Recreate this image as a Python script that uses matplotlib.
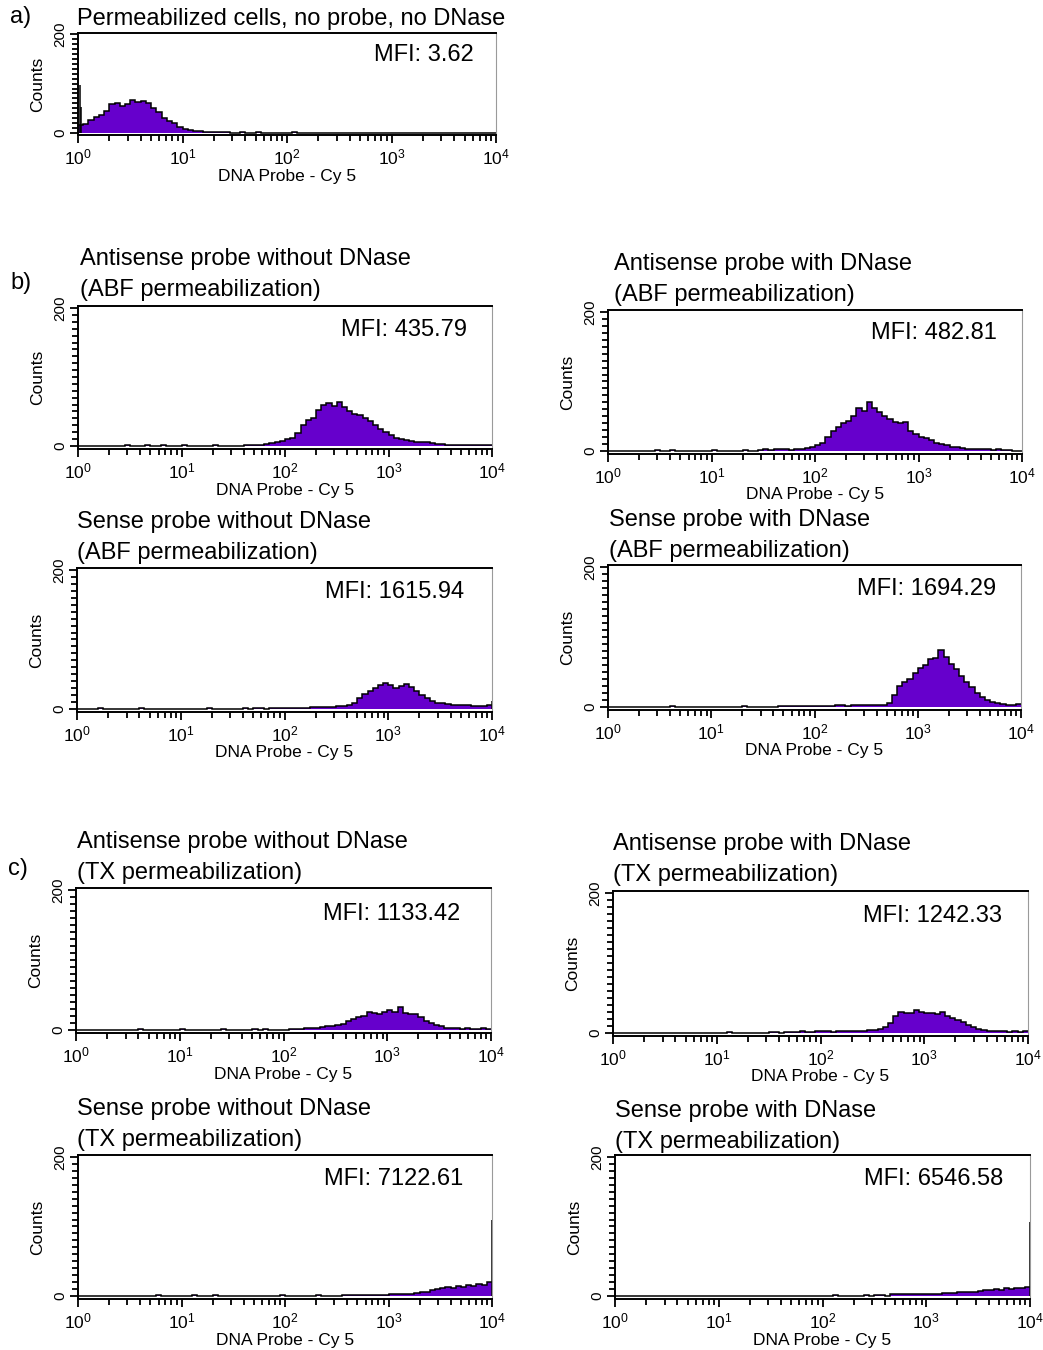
import matplotlib.pyplot as plt
import numpy as np
from matplotlib.ticker import LogLocator, MultipleLocator, NullFormatter

plt.rcParams['font.family'] = ['Liberation Sans', 'DejaVu Sans']
plt.rcParams['mathtext.fontset'] = 'custom'
plt.rcParams['mathtext.rm'] = 'Liberation Sans'
plt.rcParams['mathtext.it'] = 'Liberation Sans:italic'
plt.rcParams['mathtext.bf'] = 'Liberation Sans:bold'

# channel edges: 20 log bins per decade over 10^0 .. 10^4
edges = np.logspace(0, 4, 81)

# counts per bin
a_ctrl = [15, 18, 26, 32, 37, 45, 58, 60, 55, 58,
          66, 63, 64, 60, 50, 42, 30, 24, 20, 12,
          8, 5, 4, 4, 2, 2, 1, 1, 1, 0,
          0, 1, 0, 0, 1, 0, 0, 0, 0, 0,
          0, 1, 0, 0, 0, 0, 0, 0, 0, 0,
          0, 0, 0, 0, 0, 0, 0, 0, 0, 0,
          0, 0, 0, 0, 0, 0, 0, 0, 0, 0,
          0, 0, 0, 0, 0, 0, 0, 0, 0, 0]
b_anti_no = [0, 0, 0, 0, 0, 0, 0, 0, 0, 1,
             0, 0, 0, 1, 0, 0, 1, 0, 0, 0,
             1, 0, 0, 0, 0, 0, 1, 0, 0, 0,
             0, 0, 1, 1, 2, 2, 3, 4, 5, 7,
             10, 12, 18, 30, 37, 40, 52, 60, 62, 58,
             64, 56, 50, 47, 45, 40, 36, 30, 24, 20,
             16, 12, 10, 9, 7, 6, 5, 5, 4, 3,
             3, 2, 2, 2, 2, 1, 1, 2, 1, 1]
b_anti_dn = [0, 0, 0, 0, 0, 0, 0, 0, 0, 1,
             0, 0, 1, 0, 0, 0, 0, 0, 0, 0,
             1, 0, 0, 0, 0, 0, 1, 0, 0, 1,
             2, 1, 2, 2, 2, 1, 3, 3, 4, 5,
             8, 12, 20, 28, 35, 40, 43, 50, 62, 58,
             70, 62, 56, 50, 46, 42, 40, 42, 28, 24,
             20, 18, 15, 12, 10, 8, 6, 5, 4, 3,
             3, 2, 2, 2, 1, 2, 1, 1, 0, 0]
b_sense_no = [0, 0, 0, 0, 1, 0, 0, 0, 0, 0,
              0, 0, 1, 0, 0, 0, 0, 0, 0, 0,
              0, 0, 0, 0, 0, 1, 0, 0, 0, 0,
              0, 0, 1, 0, 1, 1, 0, 1, 1, 1,
              1, 1, 1, 1, 1, 2, 2, 2, 3, 3,
              4, 4, 6, 9, 16, 22, 26, 30, 35, 37,
              34, 30, 33, 36, 32, 26, 20, 15, 12, 9,
              8, 7, 6, 6, 5, 5, 4, 4, 4, 5]
b_sense_dn = [0, 0, 0, 0, 0, 0, 0, 0, 0, 0,
              0, 0, 1, 0, 0, 0, 0, 0, 0, 0,
              0, 0, 0, 0, 0, 0, 1, 0, 0, 0,
              0, 0, 0, 1, 1, 1, 1, 1, 1, 1,
              1, 1, 1, 1, 2, 2, 1, 2, 2, 2,
              2, 2, 2, 3, 6, 17, 30, 36, 40, 48,
              55, 60, 68, 70, 82, 72, 62, 54, 44, 36,
              28, 20, 14, 10, 7, 5, 4, 3, 3, 4]
c_anti_no = [0, 0, 0, 0, 0, 0, 0, 0, 0, 0,
             0, 0, 1, 0, 0, 0, 0, 0, 0, 0,
             1, 0, 0, 0, 0, 0, 0, 0, 1, 0,
             0, 0, 0, 0, 1, 0, 1, 0, 0, 0,
             0, 1, 1, 1, 2, 3, 3, 4, 5, 5,
             7, 9, 12, 15, 18, 20, 26, 24, 22, 26,
             28, 25, 32, 24, 23, 22, 18, 13, 10, 7,
             5, 3, 2, 2, 1, 2, 1, 1, 2, 1]
c_anti_dn = [0, 0, 0, 0, 0, 0, 0, 0, 0, 0,
             0, 0, 0, 0, 0, 0, 0, 0, 0, 0,
             0, 0, 1, 0, 0, 0, 0, 0, 0, 0,
             1, 1, 0, 1, 1, 1, 2, 1, 1, 2,
             2, 2, 1, 2, 2, 2, 3, 3, 3, 4,
             4, 6, 8, 14, 24, 30, 29, 28, 33, 30,
             29, 28, 27, 30, 24, 21, 18, 15, 11, 8,
             5, 4, 3, 2, 2, 2, 1, 2, 1, 2]
c_sense_no = [0, 0, 0, 0, 0, 0, 0, 0, 0, 0,
              0, 0, 0, 0, 0, 1, 0, 0, 0, 0,
              0, 0, 1, 0, 0, 0, 1, 0, 0, 0,
              0, 0, 0, 0, 0, 0, 0, 0, 0, 1,
              0, 0, 0, 0, 0, 0, 1, 0, 0, 0,
              0, 1, 1, 1, 1, 1, 1, 1, 1, 1,
              2, 2, 2, 3, 3, 4, 5, 6, 8, 10,
              12, 13, 11, 14, 13, 15, 14, 17, 16, 20]
c_sense_dn = [0, 0, 0, 0, 0, 0, 0, 0, 0, 0,
              0, 0, 0, 0, 0, 0, 0, 0, 0, 0,
              0, 0, 0, 0, 0, 0, 0, 0, 0, 0,
              0, 0, 0, 0, 0, 0, 0, 0, 0, 0,
              0, 0, 1, 0, 0, 0, 0, 0, 1, 0,
              1, 1, 0, 2, 2, 3, 3, 3, 3, 3,
              3, 3, 3, 4, 4, 4, 5, 5, 6, 6,
              7, 8, 9, 10, 9, 11, 10, 12, 12, 13]

# single-channel pile-ups (channel value, count)
spikes = [[(1.035, 97), (1.07, 53)], [], [], [(9900, 12)], [], [], [], [(9900, 110)], [(9900, 106)]]

counts = [a_ctrl, b_anti_no, b_anti_dn, b_sense_no, b_sense_dn,
          c_anti_no, c_anti_dn, c_sense_no, c_sense_dn]
mfi = ['3.62', '435.79', '482.81', '1615.94', '1694.29',
       '1133.42', '1242.33', '7122.61', '6546.58']
titles = [['Permeabilized cells, no probe, no DNase'],
          ['Antisense probe without DNase', '(ABF permeabilization)'],
          ['Antisense probe with DNase', '(ABF permeabilization)'],
          ['Sense probe without DNase', '(ABF permeabilization)'],
          ['Sense probe with DNase', '(ABF permeabilization)'],
          ['Antisense probe without DNase', '(TX permeabilization)'],
          ['Antisense probe with DNase', '(TX permeabilization)'],
          ['Sense probe without DNase', '(TX permeabilization)'],
          ['Sense probe with DNase', '(TX permeabilization)']]

# layout in pixels: axes box (l, t, r, b), title x and first baseline, MFI right x and baseline
rects = [(78, 33, 496, 135), (78, 306, 492, 449), (608, 310, 1022, 454),
         (77, 568, 492, 712), (608, 565, 1021, 710), (76, 888, 491, 1033),
         (613, 891, 1028, 1036), (78, 1155, 492, 1299), (615, 1155, 1030, 1299)]
title_pos = [(77, 25), (80, 265), (614, 270), (77, 528), (609, 526),
             (77, 848), (613, 850), (77, 1115), (615, 1117)]
mfi_pos = [(474, 61), (467, 336), (997, 339), (464, 598), (996, 595),
           (460, 920), (1002, 922), (463, 1185), (1003, 1185)]
letters = [('a)', 10, 23), ('b)', 10, 289), ('c)', 8, 875)]

W, H = 1043, 1350
purple = '#6600cc'
fig = plt.figure(figsize=(W / 100, H / 100), dpi=100)

for i in range(9):
    l, t, r, b = rects[i]
    ax = fig.add_axes([l / W, 1 - b / H, (r - l) / W, (b - t) / H])
    ax.stairs(counts[i], edges, fill=True, color=purple, baseline=0, lw=0)
    ax.stairs(counts[i], edges, color='black', lw=1.1, baseline=None)
    for x, h in spikes[i]:
        ax.vlines(x, 0, h, color='black', lw=1.1)

    ax.set_xscale('log')
    ax.set_xlim(1, 1e4)
    ax.set_ylim(-4.5, 203)
    ax.xaxis.set_major_locator(LogLocator(base=10, numticks=10))
    ax.xaxis.set_minor_locator(LogLocator(base=10, subs=np.arange(2, 10), numticks=20))
    ax.xaxis.set_minor_formatter(NullFormatter())
    ax.set_yticks([0, 200])
    ax.set_yticklabels(['0', '200'], rotation=90, va='center', fontsize=11)
    ax.yaxis.set_minor_locator(MultipleLocator(10))
    ax.tick_params(which='both', direction='out', width=1.3, color='black')
    ax.tick_params(which='major', length=6)
    ax.tick_params(which='minor', length=4)
    ax.tick_params(axis='x', labelsize=12.5, pad=3)
    ax.tick_params(axis='y', pad=2)

    for side in ['top', 'left', 'bottom']:
        ax.spines[side].set_linewidth(1.4)
    ax.spines['right'].set_color('#9a9a9a')
    ax.spines['right'].set_linewidth(0.8)

    ax.set_xlabel('DNA Probe - Cy 5', fontsize=12.5)
    ax.xaxis.set_label_coords(0.5, -41 / (b - t))
    ax.xaxis.label.set_va('center')
    ax.set_ylabel('Counts', fontsize=12.5)
    ax.yaxis.set_label_coords(-40 / (r - l), 0.5)
    ax.yaxis.label.set_va('center')

    tx, ty = title_pos[i]
    for k, line in enumerate(titles[i]):
        fig.text(tx / W, 1 - (ty + 31 * k) / H, line, fontsize=17, va='baseline')
    mx, my = mfi_pos[i]
    fig.text(mx / W, 1 - my / H, 'MFI: ' + mfi[i], fontsize=17, ha='right', va='baseline')

for s, x, y in letters:
    fig.text(x / W, 1 - y / H, s, fontsize=17, va='baseline')

fig.savefig('out.png', dpi=100)
